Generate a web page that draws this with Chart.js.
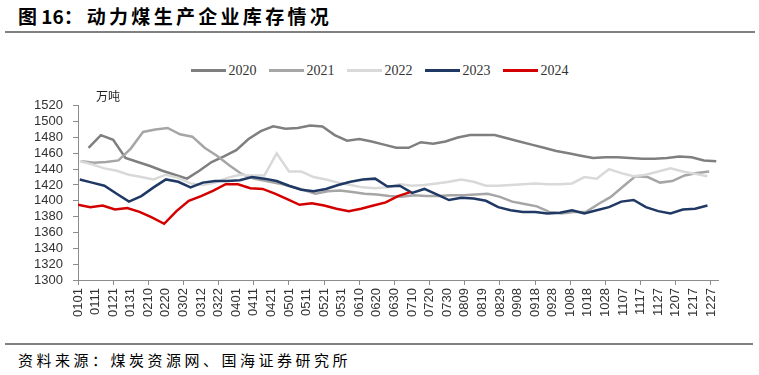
<!DOCTYPE html>
<html>
<head>
<meta charset="utf-8">
<script src="https://cdn.jsdelivr.net/npm/chart.js@4"></script>
<style>
  body { margin: 0; background: #fff; }
  #page { position: relative; width: 759px; height: 375px; overflow: hidden; }
  #title { position: absolute; left: 18px; top: 4px; font: bold 19px "Noto Sans CJK SC", sans-serif; line-height: 24px; color: #000; white-space: nowrap; }
  #title .name { letter-spacing: 3.3px; margin-left: 4px; }
  .rule { position: absolute; left: 5px; height: 2px; background: #808080; }
  #legend { position: absolute; left: 0; top: 62px; width: 759px; display: flex; justify-content: center; font: 14px "Liberation Serif", serif; color: #333; line-height: 17px; }
  .item { display: flex; align-items: center; margin: 0 6px; }
  .swatch { width: 35px; height: 3px; margin-right: 3px; }
  #unit { position: absolute; left: 96px; top: 87px; font: 12px "Noto Sans CJK SC", sans-serif; color: #222; }
  #box { position: absolute; left: 0; top: 88px; width: 759px; height: 255px; }
  #source { position: absolute; left: 18px; top: 349px; font: 15px "Noto Sans CJK SC", sans-serif; letter-spacing: 3.5px; color: #000; }
</style>
</head>
<body>
<div id="page">
  <div id="title">图 16：<span class="name">动力煤生产企业库存情况</span></div>
  <div class="rule" style="top:31px;width:750px"></div>
  <div id="legend"></div>
  <div id="box"><canvas id="chart"></canvas></div>
  <div id="unit">万吨</div>
  <div class="rule" style="top:343px;width:748px"></div>
  <div id="source">资料来源：煤炭资源网、国海证券研究所</div>
</div>
<script>
// weekly readings, day-of-year of the first reading for each year
const years = ['2020', '2021', '2022', '2023', '2024'];
const colors = ['#7f7f7f', '#a6a6a6', '#d9d9d9', '#1f3864', '#d40000'];
const firstDay = [6, 2, 1, 1, 0];

const stock2020 = [1467, 1483, 1477, 1454, 1449, 1444, 1438, 1433, 1428, 1438, 1449, 1456, 1464, 1478, 1488, 1494, 1491, 1492, 1495, 1494, 1483, 1476, 1478, 1475, 1471, 1467, 1467, 1474, 1472, 1475, 1480, 1483, 1483, 1483, 1479, 1475, 1471, 1467, 1463, 1460, 1457, 1454, 1455, 1455, 1454, 1453, 1453, 1454, 1456, 1455, 1451, 1450];
const stock2021 = [1450, 1448, 1449, 1451, 1466, 1487, 1490, 1492, 1484, 1481, 1467, 1457, 1445, 1434, 1428, 1425, 1422, 1418, 1414, 1409, 1412, 1413, 1411, 1409, 1408, 1406, 1405, 1407, 1406, 1406, 1407, 1407, 1408, 1409, 1405, 1399, 1396, 1393, 1386, 1384, 1386, 1386, 1396, 1405, 1418, 1431, 1430, 1423, 1425, 1432, 1435, 1437];
const stock2022 = [1450, 1446, 1441, 1438, 1433, 1430, 1427, 1433, 1429, 1422, 1420, 1423, 1429, 1433, 1432, 1432, 1460, 1437, 1437, 1430, 1427, 1423, 1420, 1417, 1416, 1417, 1421, 1419, 1420, 1422, 1424, 1427, 1424, 1419, 1419, 1420, 1421, 1422, 1421, 1421, 1422, 1430, 1428, 1440, 1435, 1431, 1433, 1437, 1441, 1437, 1434, 1431];
const stock2023 = [1427, 1423, 1419, 1409, 1399, 1406, 1417, 1427, 1424, 1417, 1423, 1425, 1425, 1426, 1430, 1428, 1425, 1419, 1414, 1412, 1415, 1420, 1424, 1427, 1428, 1418, 1419, 1410, 1415, 1408, 1401, 1404, 1403, 1400, 1392, 1388, 1386, 1386, 1384, 1385, 1388, 1384, 1388, 1392, 1399, 1401, 1392, 1387, 1384, 1389, 1390, 1394];
const stock2024 = [1395, 1392, 1394, 1389, 1391, 1386, 1379, 1371, 1387, 1400, 1406, 1413, 1421, 1421, 1416, 1415, 1409, 1402, 1395, 1397, 1394, 1390, 1387, 1390, 1394, 1398, 1406, 1411];
const series = [stock2020, stock2021, stock2022, stock2023, stock2024];

// y axis
const yMin = 1300, yMax = 1520, yStep = 20;

const monthDays = [31, 28, 31, 30, 31, 30, 31, 31, 30, 31, 30, 31];
function mmdd(day) {
  let m = 0;
  let d = day;
  while (m < 11 && d >= monthDays[m]) { d -= monthDays[m]; m++; }
  return String(m + 1).padStart(2, '0') + String(d + 1).padStart(2, '0');
}

// legend
const legend = document.getElementById('legend');
years.forEach((y, i) => {
  const item = document.createElement('div');
  item.className = 'item';
  item.innerHTML = '<div class="swatch" style="background:' + colors[i] + '"></div><span>' + y + '</span>';
  legend.appendChild(item);
});

const datasets = years.map((y, i) => ({
  label: y,
  data: series[i].map((v, k) => ({ x: firstDay[i] + 7 * k, y: v })),
  borderColor: colors[i],
  borderWidth: 2.5,
  pointRadius: 0,
  tension: 0,
  fill: false,
  order: years.length - i,
}));

const axisColor = '#8c8c8c';
const tickFont = { family: 'Liberation Sans', size: 13 };

new Chart(document.getElementById('chart'), {
  type: 'line',
  data: { datasets: datasets },
  options: {
    responsive: true,
    maintainAspectRatio: false,
    animation: false,
    layout: { padding: { top: 12, right: 41, left: 0, bottom: 0 } },
    plugins: { legend: { display: false }, tooltip: { enabled: false } },
    scales: {
      x: {
        type: 'linear',
        min: 0,
        max: 364,
        afterFit: (s) => { s.height = 63; },
        border: { color: axisColor },
        grid: {
          drawOnChartArea: false,
          tickLength: 5,
          tickColor: (ctx) => (ctx.tick && ctx.tick.value % 20 === 0 ? axisColor : 'rgba(0,0,0,0)'),
        },
        ticks: {
          stepSize: 10,
          autoSkip: false,
          includeBounds: false,
          minRotation: 90,
          maxRotation: 90,
          padding: 3,
          color: '#333',
          font: tickFont,
          callback: (v) => mmdd(v),
        },
      },
      y: {
        min: yMin,
        max: yMax,
        afterFit: (s) => { s.width = 78; },
        border: { color: axisColor },
        grid: { drawOnChartArea: false, tickLength: 5, tickColor: axisColor },
        ticks: {
          stepSize: yStep,
          autoSkip: false,
          padding: 10,
          color: '#333',
          font: tickFont,
          callback: (v) => String(v),
        },
      },
    },
  },
});
</script>
</body>
</html>
